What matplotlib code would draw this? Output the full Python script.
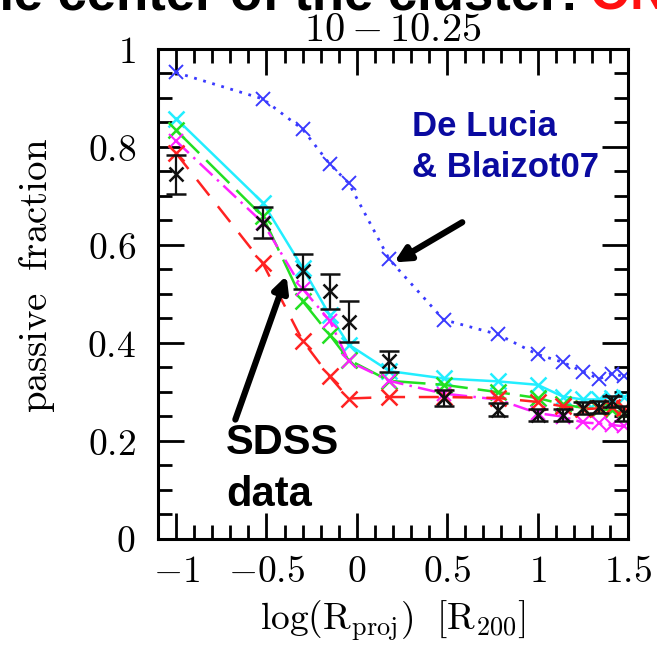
import matplotlib
matplotlib.use("Agg")
import matplotlib.pyplot as plt
from matplotlib.ticker import MultipleLocator

plt.rcParams['mathtext.fontset'] = 'cm'
plt.rcParams['font.family'] = ['DejaVu Serif']

# projected radius bins, log(R_proj / R200)
log_r = [-1.0, -0.52, -0.30, -0.15, -0.045, 0.18, 0.48, 0.78, 1.0, 1.14, 1.25, 1.34, 1.41, 1.48]

# passive fractions per model
delucia = [0.952, 0.898, 0.836, 0.765, 0.726, 0.570, 0.447, 0.417, 0.376, 0.360, 0.341, 0.326, 0.337, 0.331]
model_cyan = [0.858, 0.686, 0.553, 0.456, 0.396, 0.342, 0.327, 0.321, 0.314, 0.290, 0.284, 0.284, 0.288, 0.290]
model_green = [0.834, 0.658, 0.485, 0.416, 0.365, 0.322, 0.314, 0.299, 0.287, 0.274, 0.267, 0.264, 0.262, 0.257]
model_red = [0.787, 0.562, 0.404, 0.331, 0.286, 0.289, 0.289, 0.287, 0.279, 0.270, 0.264, 0.266, 0.268, 0.266]
model_magenta = [0.812, 0.645, 0.510, 0.445, 0.362, 0.322, 0.296, 0.284, 0.256, 0.249, 0.237, 0.235, 0.232, 0.229]

# SDSS observations with errors
sdss = [0.744, 0.645, 0.546, 0.505, 0.443, 0.362, 0.287, 0.263, 0.253, 0.253, 0.266, 0.268, 0.280, 0.256]
sdss_err = [0.040, 0.032, 0.036, 0.036, 0.042, 0.021, 0.016, 0.013, 0.012, 0.012, 0.012, 0.012, 0.012, 0.015]

xticks = [-1, -0.5, 0, 0.5, 1, 1.5]
xticklabels = [r'$-1$', r'$-0.5$', r'$0$', r'$0.5$', r'$1$', r'$1.5$']
yticks = [0, 0.2, 0.4, 0.6, 0.8, 1.0]
yticklabels = [r'$0$', r'$0.2$', r'$0.4$', r'$0.6$', r'$0.8$', r'$1$']

W, H = 657, 656
fig = plt.figure(figsize=(W / 100, H / 100), dpi=100)
ax = fig.add_axes([158 / W, 1 - 538.5 / H, 470 / W, 489.5 / H])

ax.plot(log_r, delucia, color='#3a3aff', ls=(0, (1, 2.4)), lw=2.0,
        marker='x', ms=10, mew=1.4)
ax.plot(log_r, model_cyan, color='#22eeff', ls='-', lw=1.8,
        marker='x', ms=11, mew=1.8)
ax.plot(log_r, model_green, color='#22e022', ls=(0, (13, 4)), lw=1.8,
        marker='x', ms=11, mew=1.8)
ax.plot(log_r, model_magenta, color='#ff22ff', ls=(0, (7, 2.5, 1, 2.5)), lw=1.8,
        marker='x', ms=10, mew=1.5)
ax.plot(log_r, model_red, color='#ff2222', ls=(0, (8, 5.5)), lw=1.8,
        marker='x', ms=11, mew=1.8)
ax.errorbar(log_r, sdss, yerr=sdss_err, fmt='x', color='#111111',
            ms=10, mew=1.8, elinewidth=1.6, capsize=7, capthick=1.6)

ax.set_xlim(-1.1, 1.5)
ax.set_ylim(0, 1)
ax.set_xticks(xticks)
ax.set_xticklabels(xticklabels)
ax.set_yticks(yticks)
ax.set_yticklabels(yticklabels)
ax.xaxis.set_minor_locator(MultipleLocator(0.1))
ax.yaxis.set_minor_locator(MultipleLocator(0.05))
ax.tick_params(which='both', direction='in', top=True, right=True,
               labelsize=27, width=2.0, color='black')
ax.tick_params(which='major', length=19)
ax.tick_params(which='minor', length=10)
ax.tick_params(axis='x', which='major', pad=11)
ax.tick_params(axis='y', which='major', pad=16)
for s in ax.spines.values():
    s.set_linewidth(2.2)

ax.set_xlabel(r'$\log(\mathrm{R}_{\mathrm{proj}})\ \ [\mathrm{R}_{200}\mathbf{]}$',
              fontsize=27, labelpad=6)
ax.set_ylabel(r'$\mathrm{passive\ \ fraction}$', fontsize=28)
ax.yaxis.set_label_coords(-0.215, 0.538)
ax.set_title(r'$10-10.25$', fontsize=29, pad=6)

# annotations
bold = dict(family='Liberation Sans', weight='bold')
ax.text(0.306, 0.875, 'De Lucia\n& Blaizot07', color='#0a0aa0', fontsize=25,
        ha='left', va='top', linespacing=1.3, **bold)
ax.annotate('', xy=(0.206, 0.564), xytext=(0.583, 0.646),
            arrowprops=dict(arrowstyle='-|>,head_length=0.9,head_width=0.45',
                            color='black', lw=4.5, shrinkA=0, shrinkB=0))
ax.text(-0.725, 0.235, 'SDSS\ndata', color='black', fontsize=30,
        ha='left', va='top', linespacing=1.38, **bold)
ax.annotate('', xy=(-0.389, 0.537), xytext=(-0.672, 0.243),
            arrowprops=dict(arrowstyle='-|>,head_length=0.9,head_width=0.45',
                            color='black', lw=4.5, shrinkA=0, shrinkB=0))

# heading line running off the top edge
fig.text(578 / W, 1 - 9 / H, 'the center of the cluster:', color='black',
         fontsize=38, ha='right', va='baseline', **bold)
fig.text(590 / W, 1 - 9 / H, 'ON', color='#ff1010',
         fontsize=38, ha='left', va='baseline', **bold)

fig.savefig('out.png', dpi=100)
